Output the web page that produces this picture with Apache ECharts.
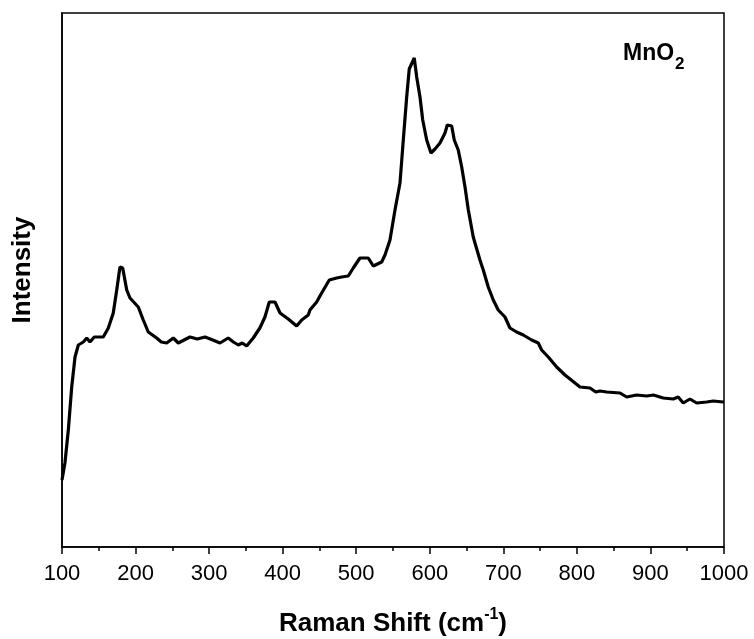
<!DOCTYPE html>
<html>
<head>
<meta charset="utf-8">
<script src="https://cdn.jsdelivr.net/npm/echarts@6/dist/echarts.min.js"></script>
<style>html,body{margin:0;padding:0;background:#fff;}#c{width:754px;height:639px;}</style>
</head>
<body>
<div id="c"></div>
<script>
var ramanShift = [100,104,108.6,113.2,117.7,122.2,129,133.6,138,143.9,149.3,156.1,163,169.7,174.4,178.8,182.5,188,192.4,203.7,210.5,217.3,228.7,235,242.3,251.3,258.1,266,274,284,294.4,305,314.8,326,333,339.7,345,351,360,369,375.9,381.8,389.6,396.4,407.6,419,425.9,434.8,437.1,446.2,453,463.4,473.4,480.2,489.2,496,505.1,516.4,523.2,534.6,539.1,545.9,552.7,559.5,564,568.6,572.1,578.9,582.2,586.7,590.4,595.8,601.6,607.1,613.9,620.7,623.8,629.8,633.3,638.7,643.4,647.9,652.4,659.1,668.2,672.7,679.5,686.3,693.1,702.2,709,718.1,727.1,738.5,747.5,752.1,761.1,772.5,783.8,797.4,804.2,817.8,825.8,831.4,840.5,858.6,867.7,881.3,894.9,903.9,917.4,931,937.8,944.6,953.7,962.8,976.4,985.4,999,1000];
var intensity = [67,84,117,160,190,202,205,209,205,210,210,210,219,234,257,280,279,257,249,240,227,215,209,205,204,209,204,207,210,208,210,207,204,209,205,202,204,201,209,219,230,245,245,234,228,221,227,232,237,245,254,267,269,270,271,279,289,289,281,285,292,307,337,364,407,450,478,489,470,450,427,407,394,398,404,414,422,421,407,397,380,360,337,310,287,277,260,247,237,230,219,215,212,207,204,197,190,180,172,164,160,159,155,156,155,154,150,152,151,152,149,148,150,144,148,144,145,146,145,145];
var xTicks = [100,200,300,400,500,600,700,800,900,1000];

var data = ramanShift.map(function(v,i){return [v,intensity[i]];});
var chart = echarts.init(document.getElementById('c'));
var font = 'Liberation Sans, Arial, sans-serif';
chart.setOption({
  animation:false,
  backgroundColor:'#fff',
  grid:{left:62,right:30,top:13,bottom:92,outerBoundsMode:'none',containLabel:false,show:true,borderColor:'#000',borderWidth:1.5,backgroundColor:'transparent'},
  xAxis:{
    type:'value',min:100,max:1000,interval:100,
    axisLine:{show:true,lineStyle:{color:'#000',width:1.5}},
    axisTick:{show:true,length:7,lineStyle:{color:'#000',width:1.5}},
    minorTick:{show:true,splitNumber:2,length:4,lineStyle:{color:'#000',width:1.5}},
    splitLine:{show:false},
    axisLabel:{color:'#000',fontSize:22,fontFamily:font,margin:16,
      formatter:function(v){return xTicks.indexOf(v)>=0?String(v):'';}},
    name:'{a|Raman Shift (cm}{s|-1}{a|)}',
    nameLocation:'middle',nameGap:60,
    nameTextStyle:{rich:{
      a:{fontSize:26,fontWeight:'bold',color:'#000',fontFamily:font,verticalAlign:'bottom',lineHeight:30},
      s:{fontSize:16,fontWeight:'bold',color:'#000',fontFamily:font,verticalAlign:'top',lineHeight:30,padding:[0,0,12,0]}
    }}
  },
  yAxis:{
    type:'value',min:0,max:534,
    axisLine:{show:true,lineStyle:{color:'#000',width:1.5}},
    axisTick:{show:false},axisLabel:{show:false},splitLine:{show:false},
    name:'Intensity',nameLocation:'middle',nameGap:26,
    nameTextStyle:{fontSize:26,fontWeight:'bold',color:'#000',fontFamily:font,padding:[0,0,0,20]}
  },
  graphic:[{
    type:'text',left:623,top:42,
    style:{text:'{a|MnO}{s|2}',rich:{
      a:{fontSize:23,fontWeight:'bold',fill:'#000',fontFamily:font,verticalAlign:'bottom'},
      s:{fontSize:17,fontWeight:'bold',fill:'#000',fontFamily:font,verticalAlign:'bottom',padding:[0,0,-8,1]}
    }}
  }],
  series:[{
    type:'line',data:data,showSymbol:false,smooth:false,
    lineStyle:{color:'#000',width:3.2},
    itemStyle:{color:'#000'}
  }]
});
</script>
</body>
</html>
